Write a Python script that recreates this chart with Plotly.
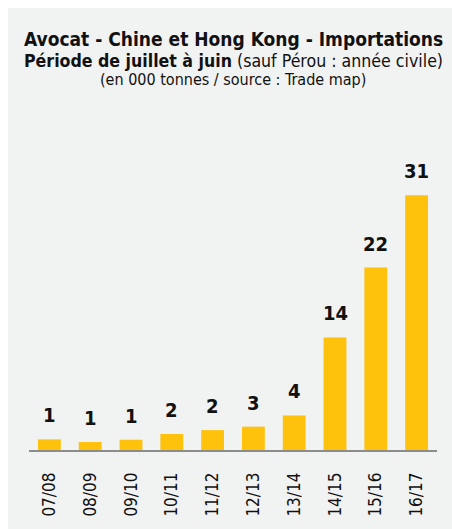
import plotly.graph_objects as go

# ================================================================
# Data
# ================================================================
campagnes = ["07/08", "08/09", "09/10", "10/11", "11/12",
             "12/13", "13/14", "14/15", "15/16", "16/17"]
volumes = [1.29, 0.97, 1.25, 1.95, 2.42, 2.84, 4.2, 13.7, 22.2, 31.0]

title_1 = "Avocat - Chine et Hong Kong - Importations"
title_2_bold = "Période de juillet à juin"
title_2_rest = " (sauf Pérou : année civile)"
title_3 = "(en 000 tonnes / source : Trade map)"

FONT = "DejaVu Sans"
BAR = "#fec20c"
PANEL = "#f1f2f2"
INK = "#111111"


def narrow(s):
    # condensed face of the font, closer to the original narrow typeface
    return f"<span style='font-stretch:condensed'>{s}</span>"


# ================================================================
# Figure
# ================================================================
fig = go.Figure()

fig.add_trace(
    go.Bar(
        x=campagnes,
        y=volumes,
        marker=dict(color=BAR, line=dict(width=0)),
        width=0.56,
        hoverinfo="x+y",
    )
)

# value labels above the bars
for c, v in zip(campagnes, volumes):
    fig.add_annotation(
        x=c, y=v, text=narrow(f"<b>{round(v)}</b>"),
        showarrow=False, yanchor="middle", yshift=24,
        font=dict(family=FONT, size=20, color=INK),
    )

# title block
fig.add_annotation(
    xref="paper", yref="paper", x=0.5, y=1 + 115 / 312, xanchor="center", yanchor="middle",
    text=narrow(f"<b>{title_1}</b>"), showarrow=False,
    font=dict(family=FONT, size=19, color=INK),
)
fig.add_annotation(
    xref="paper", yref="paper", x=0.5, y=1 + 93 / 312, xanchor="center", yanchor="middle",
    text=narrow(f"<b>{title_2_bold}</b>{title_2_rest}"), showarrow=False,
    font=dict(family=FONT, size=17.6, color=INK),
)
fig.add_annotation(
    xref="paper", yref="paper", x=0.5, y=1 + 73 / 312, xanchor="center", yanchor="middle",
    text=narrow(title_3), showarrow=False,
    font=dict(family=FONT, size=16, color=INK),
)

fig.update_layout(
    width=444,
    height=521,
    margin=dict(l=21, r=15, t=142, b=67),
    paper_bgcolor=PANEL,
    plot_bgcolor=PANEL,
    showlegend=False,
    bargap=0.44,
    xaxis=dict(
        showline=True, linecolor="#8c8c8c", linewidth=1.5,
        showgrid=False, ticks="", tickangle=-90,
        tickmode="array", tickvals=campagnes,
        ticktext=[narrow(c) for c in campagnes],
        ticklabelstandoff=14,
        tickfont=dict(family=FONT, size=17, color=INK),
        fixedrange=True,
    ),
    yaxis=dict(
        range=[0, 36.5], visible=False, showgrid=False, zeroline=False,
        fixedrange=True,
    ),
)

# white border only on top and left, panel runs to the right/bottom edges
fig.write_html("out.html", post_script="document.body.style.margin='8px 0 0 8px';")
